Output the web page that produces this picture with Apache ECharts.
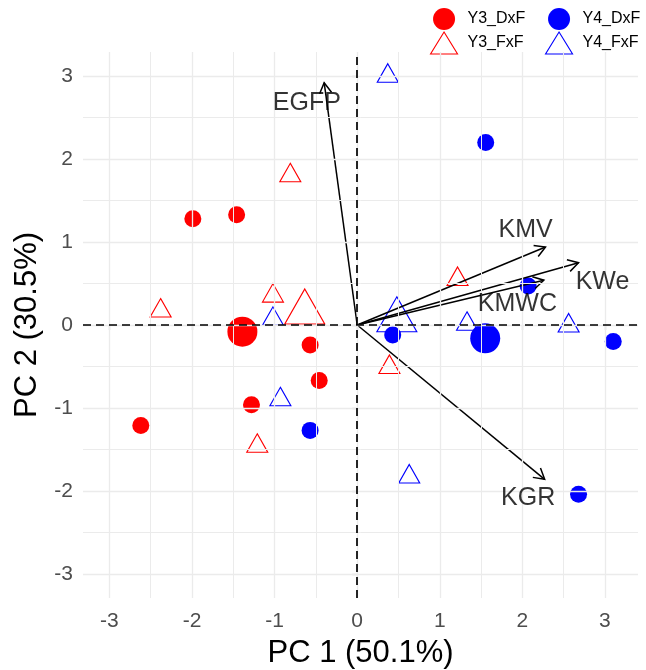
<!DOCTYPE html>
<html><head><meta charset="utf-8">
<script src="https://cdn.jsdelivr.net/npm/echarts@6/dist/echarts.min.js"></script>
<style>html,body{margin:0;padding:0;background:#fff}#chart{width:646px;height:670px}</style>
</head><body><div id="chart"></div>
<script>
// ---- data ----
const tickValues = [-3, -2, -1, 0, 1, 2, 3];
const minorGridValues = [-2.5, -1.5, -0.5, 0.5, 1.5, 2.5];

const y3DxF = [[-1.99, 1.28], [-1.46, 1.33], [-0.57, -0.24], [-0.46, -0.67], [-1.28, -0.96], [-2.62, -1.21]];
const y3DxFMean = [-1.39, -0.08];
const y3FxF = [[-2.38, 0.17], [-1.02, 0.35], [-0.81, 1.80], [-1.21, -1.46], [0.39, -0.51], [1.215, 0.55]];
const y3FxFMean = [-0.635, 0.153];
const y4DxF = [[1.556, 2.20], [2.07, 0.47], [3.10, -0.20], [0.43, -0.12], [-0.57, -1.27], [2.68, -2.04]];
const y4DxFMean = [1.55, -0.16];
const y4FxF = [[-1.02, 0.07], [-0.93, -0.90], [0.37, 3.00], [1.33, 0.01], [2.56, -0.01], [0.63, -1.83]];
const y4FxFMean = [0.48, 0.058];

const loadingNames = ['EGFP', 'KMV', 'KWe', 'KMWC', 'KGR'];
const loadingX = [-0.40, 2.28, 2.68, 2.26, 2.27];
const loadingY = [2.92, 0.94, 0.75, 0.54, -1.86];
const labelX = [-0.61, 2.04, 2.97, 1.94, 2.07];
const labelY = [2.68, 1.14, 0.52, 0.25, -2.09];

// ---- styling ----
const FONT = "'Liberation Sans', Arial, sans-serif";
const RED = '#FF0000', BLUE = '#0000FF';
const SMALL_CIRCLE = 17, BIG_CIRCLE = 30;
const SMALL_TRI = [21, 18.5], BIG_TRI = [40, 35];

function circleData(points, mean) {
  return points.map(p => ({ value: p, symbolSize: SMALL_CIRCLE }))
    .concat([{ value: mean, symbolSize: BIG_CIRCLE }]);
}
function triData(points, mean) {
  return points.map(p => ({ value: p, symbolSize: SMALL_TRI, symbolOffset: [0, -SMALL_TRI[1] / 6] }))
    .concat([{ value: mean, symbolSize: BIG_TRI, symbolOffset: [0, -BIG_TRI[1] / 6] }]);
}

const gridLineData = tickValues.map(v => ({ xAxis: v, lineStyle: { width: 1.3 } }))
  .concat(minorGridValues.map(v => ({ xAxis: v, lineStyle: { width: 1 } })))
  .concat(tickValues.map(v => ({ yAxis: v, lineStyle: { width: 1.3 } })))
  .concat(minorGridValues.map(v => ({ yAxis: v, lineStyle: { width: 1 } })));

const chart = echarts.init(document.getElementById('chart'), null, { renderer: 'canvas' });

const legendCommon = {
  orient: 'vertical', top: 8, padding: 0, itemWidth: 27, itemHeight: 22, itemGap: 1.5,
  selectedMode: false,
  textStyle: { fontSize: 16, color: '#000', fontFamily: FONT, padding: [0, 0, 0, 5] }
};

chart.setOption({
  animation: false,
  backgroundColor: '#fff',
  textStyle: { fontFamily: FONT },
  grid: { left: 83, right: 8, top: 52, bottom: 72, containLabel: false, outerBoundsMode: 'none' },
  legend: [
    Object.assign({}, legendCommon, {
      left: 430,
      data: [
        { name: 'Y3_DxF', icon: 'circle', itemStyle: { color: RED, borderWidth: 0 } },
        { name: 'Y3_FxF', icon: 'triangle', itemStyle: { color: 'rgba(0,0,0,0)', borderColor: RED, borderWidth: 1.1 } }
      ]
    }),
    Object.assign({}, legendCommon, {
      left: 545,
      data: [
        { name: 'Y4_DxF', icon: 'circle', itemStyle: { color: BLUE, borderWidth: 0 } },
        { name: 'Y4_FxF', icon: 'triangle', itemStyle: { color: 'rgba(0,0,0,0)', borderColor: BLUE, borderWidth: 1.1 } }
      ]
    })
  ],
  xAxis: {
    type: 'value', min: -3.32, max: 3.40,
    axisLine: { show: false },
    axisTick: { show: true, customValues: tickValues, length: 5, lineStyle: { color: '#333', width: 1.1 } },
    axisLabel: { customValues: tickValues, fontSize: 21, color: '#4D4D4D', margin: 13, fontFamily: FONT },
    splitLine: { show: false },
    name: 'PC 1 (50.1%)', nameLocation: 'middle', nameGap: 40,
    nameTextStyle: { fontSize: 31, color: '#000', fontFamily: FONT }
  },
  yAxis: {
    type: 'value', min: -3.29, max: 3.29,
    axisLine: { show: false },
    axisTick: { show: true, customValues: tickValues, length: 5, lineStyle: { color: '#333', width: 1.1 } },
    axisLabel: { customValues: tickValues, fontSize: 21, color: '#4D4D4D', margin: 10, fontFamily: FONT },
    splitLine: { show: false },
    name: 'PC 2 (30.5%)', nameLocation: 'middle', nameGap: 38, nameRotate: 90,
    nameTextStyle: { fontSize: 31, color: '#000', fontFamily: FONT }
  },
  series: [
    {
      type: 'scatter', name: 'grid', data: [], silent: true, z: 0,
      markLine: {
        silent: true, symbol: 'none', label: { show: false }, animation: false,
        lineStyle: { color: '#EBEBEB', type: 'solid' },
        emphasis: { disabled: true },
        data: gridLineData
      }
    },
    {
      type: 'scatter', name: 'Y3_DxF', symbol: 'circle', z: 2,
      itemStyle: { color: RED, opacity: 1 },
      emphasis: { disabled: true },
      data: circleData(y3DxF, y3DxFMean)
    },
    {
      type: 'scatter', name: 'Y3_FxF', symbol: 'triangle', z: 2,
      itemStyle: { color: 'rgba(0,0,0,0)', borderColor: RED, borderWidth: 1.1, opacity: 1 },
      emphasis: { disabled: true },
      data: triData(y3FxF, y3FxFMean)
    },
    {
      type: 'scatter', name: 'Y4_DxF', symbol: 'circle', z: 2,
      itemStyle: { color: BLUE, opacity: 1 },
      emphasis: { disabled: true },
      data: circleData(y4DxF, y4DxFMean)
    },
    {
      type: 'scatter', name: 'Y4_FxF', symbol: 'triangle', z: 2,
      itemStyle: { color: 'rgba(0,0,0,0)', borderColor: BLUE, borderWidth: 1.1, opacity: 1 },
      emphasis: { disabled: true },
      data: triData(y4FxF, y4FxFMean)
    },
    {
      type: 'scatter', name: 'zero', data: [], silent: true, z: 3,
      markLine: {
        silent: true, symbol: 'none', label: { show: false }, animation: false,
        lineStyle: { color: '#000', type: [8, 5], width: 1.7 },
        emphasis: { disabled: true },
        data: [{ xAxis: 0 }, { yAxis: 0 }]
      }
    },
    {
      type: 'custom', name: 'loadings', z: 4, silent: true,
      data: loadingX.map((x, i) => [x, loadingY[i]]),
      renderItem: function (params, api) {
        const o = api.coord([0, 0]);
        const t = api.coord([api.value(0), api.value(1)]);
        const ang = Math.atan2(t[1] - o[1], t[0] - o[0]);
        const L = 12, a = Math.PI / 6;
        const p1 = [t[0] - L * Math.cos(ang - a), t[1] - L * Math.sin(ang - a)];
        const p2 = [t[0] - L * Math.cos(ang + a), t[1] - L * Math.sin(ang + a)];
        return {
          type: 'group', children: [
            { type: 'line', shape: { x1: o[0], y1: o[1], x2: t[0], y2: t[1] }, style: { stroke: '#000', lineWidth: 1.5 } },
            { type: 'polyline', shape: { points: [p1, t, p2] }, style: { stroke: '#000', lineWidth: 1.5, fill: null } }
          ]
        };
      }
    },
    {
      type: 'scatter', name: 'loadingLabels', z: 5, silent: true,
      symbolSize: 1, itemStyle: { color: 'rgba(0,0,0,0)' },
      data: labelX.map((x, i) => ({ name: loadingNames[i], value: [x, labelY[i]] })),
      label: { show: true, position: 'inside', formatter: '{b}', fontSize: 25, color: '#000', fontFamily: FONT }
    }
  ]
});
</script>
</body></html>
